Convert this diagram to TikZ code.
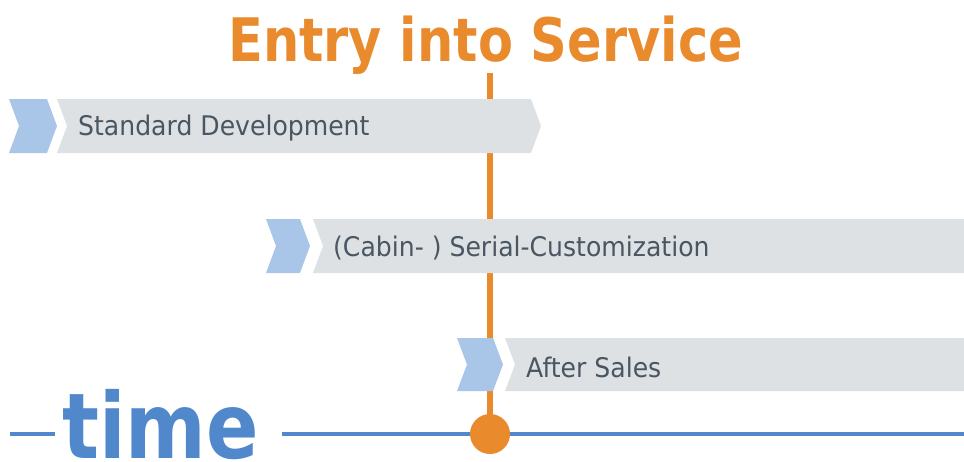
\documentclass[tikz,border=0pt]{standalone}
\usepackage{fontspec}
\setmainfont{DejaVu Sans}
\usepackage{graphicx}
\definecolor{eisorange}{HTML}{E98A2C}
\definecolor{timeblue}{HTML}{5088CB}
\definecolor{chevblue}{HTML}{A9C6E8}
\definecolor{bargray}{HTML}{DDE1E4}
\definecolor{lbltext}{HTML}{4A5662}
\begin{document}
\begin{tikzpicture}[x=1pt,y=-1pt,
  lbl/.style={inner sep=0pt,anchor=base west,text=lbltext,font=\fontsize{27}{32}\selectfont},
  titlelbl/.style={inner sep=0pt,anchor=base west,text=eisorange,font=\bfseries\fontsize{60}{70}\selectfont},
  timelbl/.style={inner sep=0pt,anchor=base west,text=timeblue,font=\bfseries\fontsize{91}{100}\selectfont},
  timeline/.style={draw=timeblue,line width=4pt},
  eisline/.style={draw=eisorange,line width=6pt},
  eisdot/.style={circle,fill=eisorange,minimum size=40pt,inner sep=0pt},
  chev/.style={fill=chevblue},
  bar/.style={fill=bargray}]
\useasboundingbox (0,0) rectangle (964,461);

% title and milestone line
\node[titlelbl] (title) at (228,61) {\scalebox{0.85}[1]{Entry into Service}};
\coordinate (eistop) at (490,73);
\coordinate (eisc) at (490,434);
\draw[eisline] (eistop) -- (eisc);

% time axis
\node[timelbl] (time) at (62,458) {\scalebox{0.85}[1]{time}};
\coordinate (tl0) at (10,434);
\coordinate (tl1) at (55,434);
\coordinate (tl2) at (282,434);
\coordinate (tl3) at (964,434);
\draw[timeline] (tl0) -- (tl1);
\draw[timeline] (tl2) -- (tl3);
\node[eisdot] (eis) at (eisc) {};

% bar 1: Standard Development
\fill[chev] (9,99) -- (47,99) -- (57,126) -- (47,153) -- (9,153) -- (19,126) -- cycle;
\fill[bar] (57,99) -- (531,99) -- (541,126) -- (531,153) -- (57,153) -- (67,126) -- cycle;
\node[lbl] (sd) at (78,135) {\scalebox{0.93}[1]{Standard Development}};

% bar 2: Serial customization
\fill[chev] (266,219) -- (300,219) -- (310,246) -- (300,273) -- (266,273) -- (276,246) -- cycle;
\fill[bar] (313,219) -- (964,219) -- (964,273) -- (313,273) -- (323,246) -- cycle;
\node[lbl] (sc) at (333,256) {\scalebox{0.93}[1]{(Cabin- ) Serial-Customization}};

% bar 3: After Sales
\fill[chev] (457,338) -- (493,338) -- (503,364.5) -- (493,391) -- (457,391) -- (467,364.5) -- cycle;
\fill[bar] (505,338) -- (964,338) -- (964,391) -- (505,391) -- (515,364.5) -- cycle;
\node[lbl] (as) at (526,377) {\scalebox{0.93}[1]{After Sales}};
\end{tikzpicture}
\end{document}
